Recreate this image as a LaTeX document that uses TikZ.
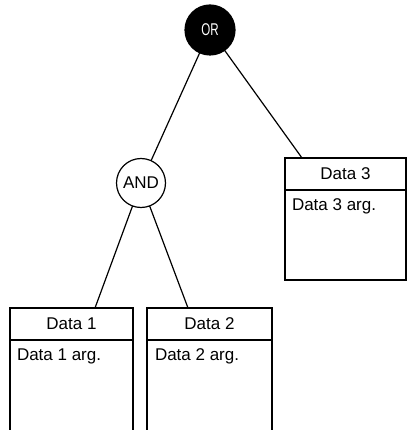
\documentclass[tikz,border=0pt]{standalone}
\usepackage{fontspec}
\setmainfont{Liberation Sans}
\begin{document}
\begin{tikzpicture}[x=1pt,y=-1pt,
  every node/.style={inner sep=0pt,outer sep=0pt},
  link/.style={line width=1.2pt,black},
  gate/.style={circle,draw,line width=1.2pt,minimum size=49pt},
  hdr/.style={rectangle,draw,line width=1.3pt,minimum height=32pt,font=\fontsize{17}{18}\selectfont},
  body/.style={rectangle,draw,line width=1.3pt},
  argtxt/.style={anchor=base west,font=\fontsize{17}{18}\selectfont}]
\useasboundingbox (0,0) rectangle (409,430);
\clip (0,0) rectangle (409,430);
% gates
\node[gate,fill=black,text=white,minimum size=50pt,font=\fontsize{17}{18}\selectfont] (or) at (210,30) {\scalebox{0.68}[1]{OR}};
\node[gate,fill=white,font=\fontsize{17}{18}\selectfont] (and) at (141,183) {AND};
% Data 3
\node[hdr,minimum width=121pt] (d3h) at (345.5,174) {Data 3};
\node[body,minimum width=121pt,minimum height=90pt] (d3b) at (345.5,235) {};
\node[argtxt] (d3t) at (292,210) {Data 3 arg.};
% Data 1
\node[hdr,minimum width=123pt] (d1h) at (71.5,324) {Data 1};
\node[body,minimum width=123pt,minimum height=110pt] (d1b) at (71.5,395) {};
\node[argtxt] (d1t) at (17,360) {Data 1 arg.};
% Data 2
\node[hdr,minimum width=125pt] (d2h) at (209.5,324) {Data 2};
\node[body,minimum width=125pt,minimum height=110pt] (d2b) at (209.5,395) {};
\node[argtxt] (d2t) at (155,360) {Data 2 arg.};
% connector ends
\coordinate (d3in) at (302,158);
\coordinate (d1in) at (95,308);
\coordinate (d2in) at (188,308);
% connectors
\draw[link] (or) -- (and);
\draw[link] (or) -- (d3in);
\draw[link] (and) -- (d1in);
\draw[link] (and) -- (d2in);
\end{tikzpicture}
\end{document}
